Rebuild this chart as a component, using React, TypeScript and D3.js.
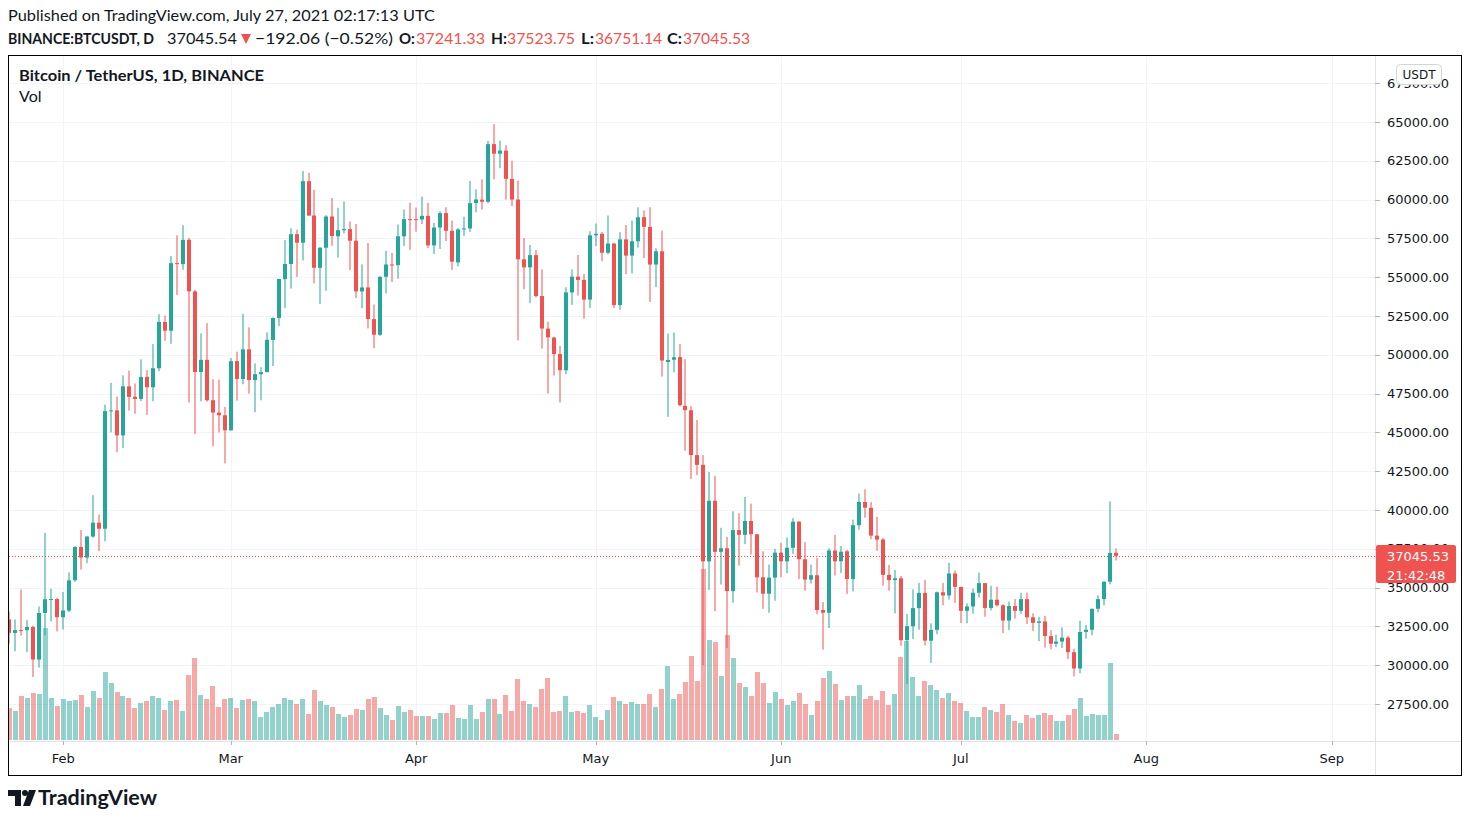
import React from "react";
import * as d3 from "d3";

// ---------- DATA (BINANCE:BTCUSDT, 1D) ----------
const startDate = "2021-01-23";
const opens = [
  32950, 32078, 32260, 32254, 32464, 30362, 33368, 34252, 34262,
  33092, 33517, 35472, 37620, 36936, 38289, 39181, 38795, 46374, 46420, 44807, 47968, 47298, 47156, 48581, 47911, 49133, 52118, 51552, 55906, 55841, 57413, 54087, 48892, 49677, 47074, 46276, 46104,
  45134, 49596, 48436, 50349, 48374, 48746, 48882, 50959, 52376, 54874, 55851, 57773, 57222, 61188, 58976, 55605, 56900, 58912, 57641, 58030, 58100, 57351, 54083, 54342, 52303, 51293, 55025, 55817, 55777, 57636, 58741,
  58739, 58720, 58950, 57051, 58202, 59129, 57990, 55953, 58077, 58142, 59778, 59998, 59861, 63575, 62959, 63159, 61334, 60007, 56150, 55633, 56425, 53787, 51691, 51110, 50047, 49004, 54021, 55033, 54825, 53555,
  57697, 57798, 56578, 57169, 53200, 57436, 56393, 57315, 58866, 58240, 55816, 56670, 49537, 49682, 49855, 46716, 46426, 43538, 42909, 36690, 40596, 37303, 37537, 34770, 38705, 38402, 39295, 38437, 35664, 34606, 35642,
  37254, 36694, 37568, 39246, 36829, 35516, 35796, 33557, 33380, 37389, 36697, 37340, 35546, 39021, 40516, 40143, 38349, 38099, 35820, 35483, 35600, 31614, 32509, 33675, 34663, 31576, 32283, 34702, 34494, 35911,
  35045, 33502, 33786, 34669, 35288, 33690, 34220, 33863, 32875, 33815, 33502, 34259, 33086, 32729, 32820, 31874, 31383, 31520, 31778, 30839, 29790, 32144, 32287, 33635, 34261, 35381, 37241.33,
];
const highs = [
  33456, 32945, 34875, 32921, 32557, 33783, 38531, 34933, 34342,
  34717, 35984, 37662, 38708, 38310, 40955, 39700, 46794, 48200, 47310, 48678, 48985, 48150, 49707, 49010, 50689, 52618, 52530, 56368, 57700, 58352, 57533, 54183, 51374, 52041, 48424, 48395, 46640,
  49790, 50200, 52640, 51773, 49448, 49200, 51450, 52402, 54895, 57387, 58150, 58058, 61844, 61724, 60633, 56938, 58999, 60100, 59468, 59880, 58589, 58430, 55830, 57200, 53240, 55073, 56700, 56559, 58400, 59368, 59800,
  59490, 60200, 59791, 58492, 59251, 59500, 58650, 58153, 58894, 61200, 60658, 61300, 63777, 64854, 63800, 63520, 62506, 61220, 57526, 57077, 56757, 55500, 52131, 51167, 50567, 54356, 55500, 56428, 55200, 57963,
  58458, 57911, 58973, 57200, 57900, 58360, 58650, 59500, 59300, 59500, 56862, 58000, 51367, 51439, 50700, 49720, 46686, 45799, 43546, 42451, 42200, 38850, 38270, 39920, 39791, 40841, 40411, 38437, 37338, 36488, 37499,
  37894, 38225, 39476, 39289, 37924, 36480, 36900, 34068, 37534, 38400, 37680, 37436, 39380, 41064, 41330, 40527, 39560, 38202, 36457, 36137, 35750, 33298, 34881, 35298, 35500, 32700, 34749, 35297, 36600, 36100,
  35057, 33977, 34945, 35967, 35293, 35118, 35059, 33929, 34100, 34262, 34666, 34679, 33340, 33114, 33185, 32249, 31955, 32435, 31899, 31063, 32858, 32591, 33650, 34500, 35398, 40550, 37523.75,
];
const lows = [
  31390, 30900, 31910, 30837, 29241, 29842, 31915, 32825, 32171,
  32296, 33418, 35362, 36161, 36570, 38215, 37351, 37988, 45000, 43727, 43994, 46400, 46202, 47014, 46125, 47003, 48947, 50901, 50710, 53863, 55477, 46930, 44893, 47004, 46975, 44106, 45000, 43000,
  45115, 47047, 48100, 47500, 46300, 47070, 48882, 49274, 51845, 53005, 54270, 55013, 56078, 58966, 54600, 53271, 54123, 57023, 56270, 57820, 55450, 53650, 53000, 51700, 50427, 51214, 53950, 54691, 54900, 57001, 56769,
  57935, 58428, 56880, 56500, 56817, 57333, 55473, 55700, 57654, 57902, 59177, 59350, 59770, 61301, 62020, 60000, 59580, 50931, 54221, 53329, 53695, 50400, 47500, 48657, 46930, 48753, 53222, 53813, 52330, 53013,
  57000, 56035, 56478, 53000, 52900, 55200, 55241, 56900, 56235, 53400, 54370, 48600, 46000, 48868, 46664, 43825, 42001, 42250, 30000, 34850, 33488, 35200, 31111, 34031, 36419, 37800, 37134, 34684, 33633, 33379, 34153,
  35666, 35920, 37170, 35555, 34800, 35252, 33300, 31000, 32396, 35782, 35936, 34600, 34757, 38730, 39506, 38116, 37365, 35129, 34803, 33336, 31251, 28805, 31683, 32286, 31275, 30151, 32000, 33862, 34225, 34017,
  32711, 32699, 33316, 34357, 33125, 33532, 33777, 32077, 32261, 33004, 33306, 32658, 32202, 31550, 31133, 31020, 31164, 31108, 30407, 29278, 29482, 31708, 31924, 33401, 33851, 35205, 36751.14,
];
const closes = [
  32078, 32259, 32254, 32467, 30366, 33364, 34252, 34262, 33092,
  33526, 35466, 37618, 36936, 38290, 39186, 38795, 46374, 46420, 44807, 47969, 47287, 47153, 48577, 47911, 49133, 52119, 51552, 55906, 55842, 57408, 54087, 48891, 49676, 47073, 46276, 46106, 45135,
  49587, 48441, 50349, 48374, 48751, 48882, 50971, 52376, 54884, 55851, 57773, 57221, 61188, 58968, 55605, 56900, 58912, 57648, 58030, 58102, 57351, 54083, 54340, 52303, 51293, 55025, 55818, 55777, 57635, 58746, 58740,
  58720, 58950, 57051, 58202, 59129, 57991, 56000, 58078, 58143, 59770, 60008, 59861, 63575, 62959, 63160, 61334, 60006, 56150, 55633, 56425, 53787, 51690, 51125, 50047, 49004, 54021, 55033, 54824, 53555, 57697,
  57797, 56578, 57169, 53200, 57436, 56393, 57314, 58863, 58240, 55816, 56670, 49631, 49671, 49841, 46762, 46431, 43538, 42909, 36690, 40596, 37304, 37537, 34770, 38705, 38402, 39295, 38437, 35664, 34606, 35641, 37253,
  36694, 37568, 39246, 36829, 35513, 35796, 33552, 33380, 37389, 36693, 37313, 35551, 39020, 40516, 40144, 38349, 38092, 35820, 35483, 35600, 31608, 32510, 33678, 34663, 31584, 32276, 34700, 34494, 35911, 35045,
  33504, 33786, 34669, 35286, 33690, 34220, 33863, 32875, 33815, 33502, 34259, 33086, 32729, 32820, 31880, 31383, 31520, 31778, 30839, 29790, 32144, 32287, 33634, 34258, 35381, 37237.6, 37045.53,
];
// volume, thousands of BTC
const volumes = [
  32, 29, 44, 42, 47, 46, 112, 42, 34,
  41, 39, 40, 45, 33, 49, 42, 68, 57, 48, 44, 42, 32, 37, 39, 44, 42, 30, 39, 40, 29, 65, 82, 45, 41, 54, 33, 41,
  42, 32, 40, 41, 39, 23, 28, 33, 36, 42, 40, 36, 41, 26, 50, 39, 35, 33, 26, 23, 25, 31, 30, 41, 43, 32, 25, 20, 34, 28, 30,
  24, 24, 24, 21, 27, 27, 35, 22, 21, 35, 21, 28, 41, 41, 26, 45, 29, 61, 39, 36, 33, 51, 62, 28, 29, 44, 28, 29, 27, 35,
  23, 20, 30, 43, 39, 36, 38, 36, 36, 46, 33, 51, 74, 41, 46, 58, 84, 59, 171, 100, 98, 64, 105, 82, 57, 53, 44, 68, 57, 37, 48,
  41, 35, 39, 47, 36, 25, 39, 62, 69, 56, 40, 44, 44, 55, 41, 44, 40, 49, 35, 46, 83, 99, 63, 44, 59, 55, 50, 42, 47, 39,
  37, 29, 23, 23, 33, 30, 28, 36, 25, 19, 17, 25, 22, 25, 27, 25, 19, 19, 25, 31, 42, 24, 26, 25, 25, 77, 6,
];
const priceTicks = [27500, 30000, 32500, 35000, 37500, 40000, 42500, 45000, 47500, 50000, 52500, 55000, 57500, 60000, 62500, 65000, 67500];
const monthLabels = ["Feb", "Mar", "Apr", "May", "Jun", "Jul", "Aug", "Sep"];
const monthDates = ["2021-02-01", "2021-03-01", "2021-04-01", "2021-05-01", "2021-06-01", "2021-07-01", "2021-08-01", "2021-09-01"];
const lastPrice = 37045.53;
const countdown = "21:42:48";

const UP = "#26a69a";
const DOWN = "#ef5350";
const UP_VOL = "rgba(38,166,154,0.5)";
const DOWN_VOL = "rgba(239,83,80,0.5)";
const TEXT = "#131722";
const GRID = "#f0f3fa";
const AXIS_FONT = "'DejaVu Sans', Verdana, sans-serif";
const UI_FONT = "Lato, 'Open Sans', sans-serif";

export default function App() {
  const parse = d3.utcParse("%Y-%m-%d");
  const t0 = parse(startDate) as Date;
  const n = opens.length;
  const tEnd = d3.utcDay.offset(t0, n - 1);
  const x = d3.scaleUtc().domain([t0, tEnd]).range([9.3, 9.3 + (n - 1) * 5.984]);
  const y = d3.scaleLinear().domain([27500, 65000]).range([704, 122]);
  const yVol = d3.scaleLinear().domain([0, 171]).range([740, 569]);

  const plotL = 9, plotR = 1375, plotT = 57, plotB = 741;
  const bodyW = 4;

  const bars = opens.map((o, i) => {
    const d = d3.utcDay.offset(t0, i);
    const cx = x(d);
    const c = closes[i];
    const up = c >= o;
    const left = Math.round(cx - bodyW / 2);
    const yTop = y(Math.max(o, c));
    const yBot = y(Math.min(o, c));
    return { i, cx, left, up, yTop, yBot, yH: y(highs[i]), yL: y(lows[i]), v: volumes[i] };
  });

  const months = monthDates.map((s, k) => ({ label: monthLabels[k], x: x(parse(s) as Date) }));
  const yLast = y(lastPrice);

  return (
    <svg width={1470} height={822} style={{ position: "absolute", left: 0, top: 0, background: "#fff" }}>
      <defs>
        <clipPath id="plot">
          <rect x={plotL} y={plotT} width={plotR - plotL} height={plotB - plotT} />
        </clipPath>
      </defs>
      <rect x={0} y={0} width={1470} height={822} fill="#fff" />

      {/* header */}
      <text x={8} y={21} fontFamily={UI_FONT} fontSize={16} fill={TEXT} textLength={427} lengthAdjust="spacingAndGlyphs">
        Published on TradingView.com, July 27, 2021 02:17:13 UTC
      </text>
      <g fontFamily={UI_FONT} fontSize={16} fill={TEXT}>
        <text x={8} y={44} fontWeight="bold" textLength={146} lengthAdjust="spacingAndGlyphs">BINANCE:BTCUSDT, D</text>
        <text x={167} y={44} textLength={70} lengthAdjust="spacingAndGlyphs">37045.54</text>
        <path d="M241,34 L251,34 L246,44 Z" fill={DOWN} />
        <text x={255} y={44} textLength={138} lengthAdjust="spacingAndGlyphs">−192.06 (−0.52%)</text>
        <text x={399} y={44} fontWeight="bold" textLength={16} lengthAdjust="spacingAndGlyphs">O:</text>
        <text x={416} y={44} fill={DOWN} textLength={69} lengthAdjust="spacingAndGlyphs">37241.33</text>
        <text x={491} y={44} fontWeight="bold" textLength={16} lengthAdjust="spacingAndGlyphs">H:</text>
        <text x={507} y={44} fill={DOWN} textLength={68} lengthAdjust="spacingAndGlyphs">37523.75</text>
        <text x={581} y={44} fontWeight="bold" textLength={13} lengthAdjust="spacingAndGlyphs">L:</text>
        <text x={595} y={44} fill={DOWN} textLength={67} lengthAdjust="spacingAndGlyphs">36751.14</text>
        <text x={667} y={44} fontWeight="bold" textLength={15} lengthAdjust="spacingAndGlyphs">C:</text>
        <text x={683} y={44} fill={DOWN} textLength={67} lengthAdjust="spacingAndGlyphs">37045.53</text>
      </g>

      {/* grid */}
      <g stroke={GRID} strokeWidth={1}>
        {priceTicks.map((p) => (
          <line key={p} x1={plotL} x2={plotR} y1={Math.round(y(p)) + 0.5} y2={Math.round(y(p)) + 0.5} />
        ))}
        {months.map((m) => (
          <line key={m.label} x1={Math.round(m.x) + 0.5} x2={Math.round(m.x) + 0.5} y1={plotT} y2={plotB} />
        ))}
      </g>

      {/* volume + candles */}
      <g clipPath="url(#plot)">
        {bars.map((b) => (
          <rect key={"v" + b.i} x={Math.round(b.cx - 2.5)} width={5} y={yVol(b.v)} height={yVol(0) - yVol(b.v)} fill={b.up ? UP_VOL : DOWN_VOL} />
        ))}
        {bars.map((b) => (
          <g key={"c" + b.i} fill={b.up ? UP : DOWN}>
            <rect x={b.left + 1.5} width={1} y={b.yH} height={Math.max(1, b.yL - b.yH)} />
            <rect x={b.left} width={bodyW} y={b.yTop} height={Math.max(1, b.yBot - b.yTop)} />
          </g>
        ))}
        <line x1={plotL} x2={plotR} y1={Math.round(yLast) + 0.5} y2={Math.round(yLast) + 0.5} stroke={DOWN} strokeWidth={1} strokeDasharray="1,2" />
      </g>

      {/* legend */}
      <text x={19} y={81} fontFamily={UI_FONT} fontSize={15} fontWeight="bold" fill={TEXT} textLength={245} lengthAdjust="spacingAndGlyphs">
        Bitcoin / TetherUS, 1D, BINANCE
      </text>
      <text x={19} y={102} fontFamily={UI_FONT} fontSize={16} fill={TEXT}>Vol</text>

      {/* axes separators */}
      <line x1={plotR + 0.5} x2={plotR + 0.5} y1={56} y2={775} stroke="#e0e3eb" />
      <line x1={8} x2={1462} y1={plotB + 0.5} y2={plotB + 0.5} stroke="#e0e3eb" />

      {/* price axis */}
      <g fontFamily={AXIS_FONT} fontSize={13} fill={TEXT}>
        {priceTicks.map((p) => (
          <g key={p}>
            <line x1={plotR} x2={plotR + 5} y1={Math.round(y(p)) + 0.5} y2={Math.round(y(p)) + 0.5} stroke="#b2b5be" />
            <text x={1387} y={y(p) + 4.5}>{d3.format(".2f")(p)}</text>
          </g>
        ))}
      </g>
      <rect x={1396.5} y={64.5} width={45} height={20} rx={4} fill="#fff" stroke="#d1d4dc" />
      <text x={1419} y={79} fontFamily={AXIS_FONT} fontSize={12} fill={TEXT} textAnchor="middle">USDT</text>

      {/* last price label */}
      <rect x={plotR + 1} y={Math.round(yLast) - 11} width={80} height={38} rx={2} fill={DOWN} />
      <g fontFamily={AXIS_FONT} fontSize={13} fill="#fff">
        <text x={1387} y={yLast + 5}>{d3.format(".2f")(lastPrice)}</text>
        <text x={1387} y={yLast + 24}>{countdown}</text>
      </g>

      {/* time axis */}
      <g fontFamily={AXIS_FONT} fontSize={13} fill={TEXT}>
        {months.map((m) => (
          <g key={m.label}>
            <line x1={Math.round(m.x) + 0.5} x2={Math.round(m.x) + 0.5} y1={plotB} y2={plotB + 4} stroke="#b2b5be" />
            <text x={m.x} y={763} textAnchor="middle">{m.label}</text>
          </g>
        ))}
      </g>

      {/* frame */}
      <rect x={8.5} y={55.5} width={1453} height={720} fill="none" stroke="#000" strokeWidth={1} />

      {/* TradingView logo */}
      <g fill={TEXT}>
        <path d="M8,790 H21 V806 H15 V796 H8 Z" />
        <circle cx={25} cy={793} r={3} />
        <path d="M29,790 H36 L30,806 H23 Z" />
        <text x={38} y={805} fontFamily={UI_FONT} fontSize={20} fontWeight="bold" textLength={119} lengthAdjust="spacingAndGlyphs">TradingView</text>
      </g>
    </svg>
  );
}
